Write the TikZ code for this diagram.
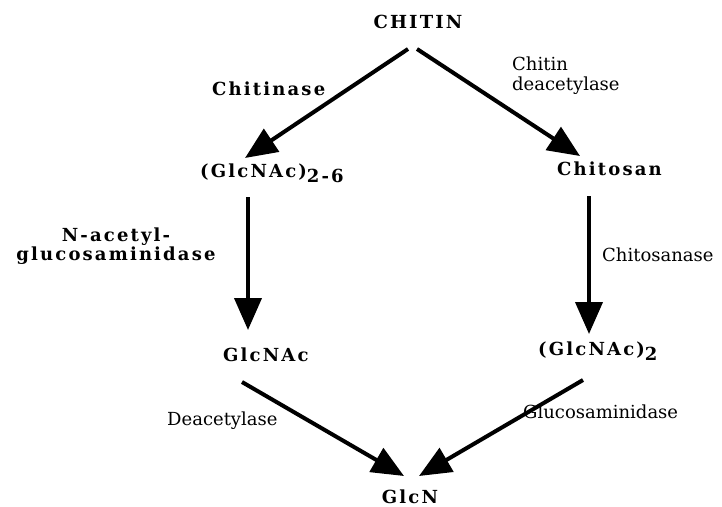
\documentclass[tikz,border=0pt]{standalone}
\usepackage{fontspec}
\setmainfont{DejaVu Serif}
\newfontfamily\spc[LetterSpace=12]{DejaVu Serif}
\usetikzlibrary{arrows.meta}
\begin{document}
\begin{tikzpicture}[x=1pt,y=-1pt,
  prod/.style={font=\spc\bfseries\fontsize{18}{20}\selectfont, inner sep=0pt},
  enz/.style={font=\fontsize{18}{20}\selectfont, inner sep=0pt},
  enzs/.style={font=\spc\bfseries\fontsize{18}{18.5}\selectfont, inner sep=0pt, align=center},
  rxn/.style={line width=4pt, -{Triangle[length=32pt,width=27pt]}}]
\useasboundingbox (0,0) rectangle (722,506);
% products
\node[prod, anchor=base] (chitin) at (418,28) {CHITIN};
\node[prod, anchor=base west] (glcnac26) at (200,177) {(GlcNAc)\raisebox{-5pt}{2-6}};
\node[prod, anchor=base west] (chitosan) at (557,175) {Chitosan};
\node[prod, anchor=base west] (glcnac) at (223,361) {GlcNAc};
\node[prod, anchor=base west] (glcnac2) at (538,355) {(GlcNAc)\raisebox{-5pt}{2}};
\node[prod, anchor=base] (glcn) at (410,503) {GlcN};
% enzymes
\node[prod, anchor=base west] (chitinase) at (212,95) {Chitinase};
\node[enz, anchor=west, align=left] (cdeac) at (512,76) {Chitin\\deacetylase};
\node[enzs] (nag) at (116,246) {N-acetyl-\\glucosaminidase};
\node[enz, anchor=base west] (chitosanase) at (602,261) {Chitosanase};
\node[enz, anchor=base west] (deac) at (167,425) {Deacetylase};
\node[enz, anchor=base west] (glucos) at (523,418) {Glucosaminidase};
% arrow ends
\coordinate (a1s) at (408,49);  \coordinate (a1e) at (245,158);
\coordinate (a2s) at (417,49);  \coordinate (a2e) at (580,156);
\coordinate (a3s) at (248,197); \coordinate (a3e) at (248,330);
\coordinate (a4s) at (589,196); \coordinate (a4e) at (589,334);
\coordinate (a5s) at (242,382); \coordinate (a5e) at (404,476);
\coordinate (a6s) at (583,380); \coordinate (a6e) at (419,476);
\draw[rxn] (a1s) -- (a1e);
\draw[rxn] (a2s) -- (a2e);
\draw[rxn] (a3s) -- (a3e);
\draw[rxn] (a4s) -- (a4e);
\draw[rxn] (a5s) -- (a5e);
\draw[rxn] (a6s) -- (a6e);
\end{tikzpicture}
\end{document}
